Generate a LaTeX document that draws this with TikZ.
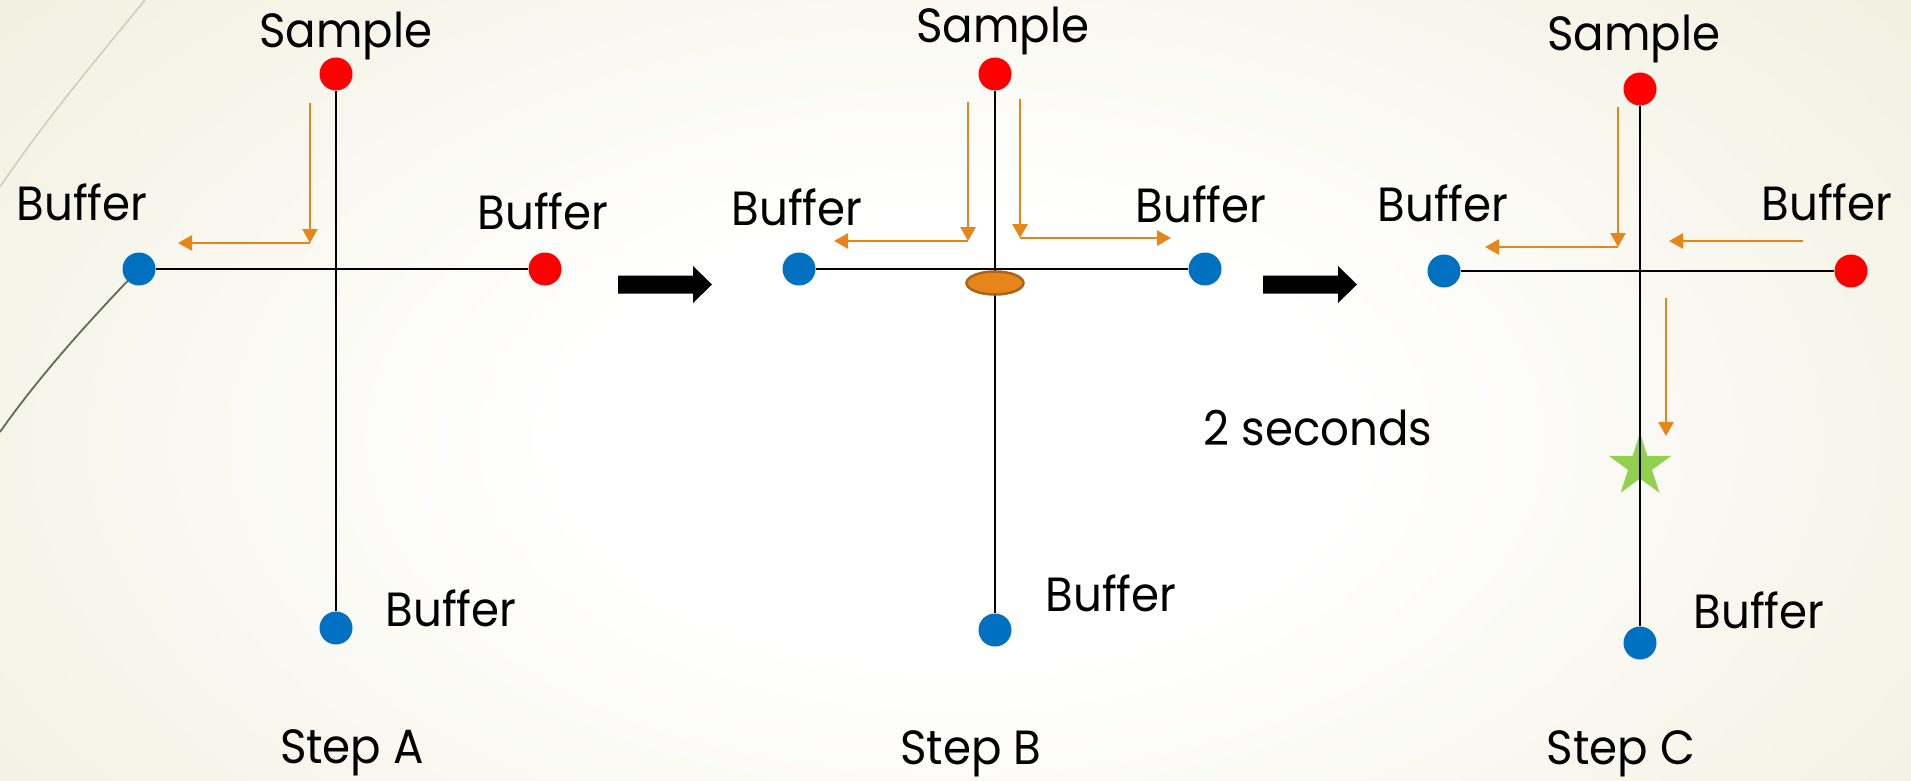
\documentclass[tikz,border=0pt]{standalone}
\usepackage{fontspec}
\setmainfont{Poppins}[FakeStretch=0.94]
\usetikzlibrary{arrows.meta,shapes.geometric}
\definecolor{dotred}{HTML}{FF0000}
\definecolor{dotblue}{HTML}{0070C0}
\definecolor{flow}{HTML}{E6861A}
\definecolor{plugedge}{HTML}{A9651C}
\definecolor{stargreen}{HTML}{92D050}
\definecolor{bgedge}{HTML}{EBE7CD}
\definecolor{bgmid}{HTML}{F4F3E6}
\definecolor{wispdark}{HTML}{5E6E4E}
\definecolor{wisplight}{HTML}{CBCFB6}
\pgfdeclareradialshading{bgshade}{\pgfpoint{0bp}{0bp}}{color(0bp)=(white); color(10bp)=(white); color(27bp)=(bgmid); color(44bp)=(bgedge); color(50bp)=(bgedge)}
\begin{document}
\begin{tikzpicture}[x=1pt,y=-1pt,
  dot/.style={circle, minimum size=33pt, inner sep=0pt, draw=none},
  reddot/.style={dot, fill=dotred},
  bluedot/.style={dot, fill=dotblue},
  lbl/.style={anchor=base, inner sep=0pt, font=\fontsize{48}{58}\selectfont},
  chan/.style={line width=2pt, black},
  flowarrow/.style={line width=2.7pt, flow, -{Triangle[length=14pt,width=15pt]}},
  blockarrow/.pic={\fill[black] (0,-9) -- (75,-9) -- (75,-18.5) -- (94,0) -- (75,18.5) -- (75,9) -- (0,9) -- cycle;}
  ]
\useasboundingbox (0,0) rectangle (1911,781);
\begin{scope}
  \clip (0,0) rectangle (1911,781);
  \shade[shading=bgshade] (-30,-120) rectangle (1940,1000);
  \draw[wisplight, line width=1.5pt] (145,0) .. controls (100,55) and (45,120) .. (0,187);
  \draw[wispdark, line width=1.8pt] (0,432) .. controls (40,375) and (90,320) .. (139,269);
\end{scope}

% ---------- Step A ----------
\node[reddot]  (As) at (336,74) {};
\node[bluedot] (Al) at (139,269) {};
\node[reddot]  (Ar) at (545,269) {};
\node[bluedot] (Ab) at (336,628) {};
\draw[chan] (As) -- (Ab);
\draw[chan] (Al) -- (Ar);
\coordinate (a1) at (310,103);
\coordinate (a2) at (310,243);
\coordinate (a3) at (178,243);
\draw[flowarrow] (a1) -- (a2);
\draw[flowarrow] (a2) -- (a3);
\node[lbl] (tAs) at (346,48) {Sample};
\node[lbl] (tAl) at (82,220) {Buffer};
\node[lbl] (tAr) at (543,229) {Buffer};
\node[lbl] (tAb) at (451,626) {Buffer};
\node[lbl] (tA)  at (352,763) {Step A};

\pic at (618,284.5) {blockarrow};

% ---------- Step B ----------
\node[reddot]  (Bs) at (995,74) {};
\node[bluedot] (Bl) at (799,269) {};
\node[bluedot] (Br) at (1205,269) {};
\node[bluedot] (Bb) at (995,630) {};
\draw[chan] (Bs) -- (Bb);
\draw[chan] (Bl) -- (Br);
\node[ellipse, minimum width=57pt, minimum height=23pt, inner sep=0pt, fill=flow, draw=plugedge, line width=2.5pt] (plug) at (995,283) {};
\coordinate (b1) at (968,102);
\coordinate (b2) at (968,241);
\coordinate (b3) at (834,241);
\coordinate (b4) at (1020,99);
\coordinate (b5) at (1020,238);
\coordinate (b6) at (1171,238);
\draw[flowarrow] (b1) -- (b2);
\draw[flowarrow] (b2) -- (b3);
\draw[flowarrow] (b4) -- (b5);
\draw[flowarrow] (b5) -- (b6);
\node[lbl] (tBs) at (1003,43) {Sample};
\node[lbl] (tBl) at (797,225) {Buffer};
\node[lbl] (tBr) at (1201,222) {Buffer};
\node[lbl] (tBb) at (1111,611) {Buffer};
\node[lbl] (tB)  at (971,764) {Step B};

\pic at (1263,284.5) {blockarrow};
\node[lbl] (tsec) at (1318,445) {2 seconds};

% ---------- Step C ----------
\node[reddot]  (Cs) at (1640,89) {};
\node[bluedot] (Cl) at (1444,271) {};
\node[reddot]  (Cr) at (1851,271) {};
\node[bluedot] (Cb) at (1640,643) {};
\node[star, star points=5, star point ratio=2.618, minimum size=66pt, inner sep=0pt, fill=stargreen] (spot) at (1640,466) {};
\draw[chan] (Cs) -- (Cb);
\draw[chan] (Cl) -- (Cr);
\coordinate (c1) at (1618,107);
\coordinate (c2) at (1618,247);
\coordinate (c3) at (1485,247);
\coordinate (c4) at (1803,241);
\coordinate (c5) at (1669,241);
\coordinate (c6) at (1666,298);
\coordinate (c7) at (1666,436);
\draw[flowarrow] (c1) -- (c2);
\draw[flowarrow] (c2) -- (c3);
\draw[flowarrow] (c4) -- (c5);
\draw[flowarrow] (c6) -- (c7);
\node[lbl] (tCs) at (1634,51) {Sample};
\node[lbl] (tCl) at (1443,221) {Buffer};
\node[lbl] (tCr) at (1827,220) {Buffer};
\node[lbl] (tCb) at (1759,628) {Buffer};
\node[lbl] (tC)  at (1621,764) {Step C};
\end{tikzpicture}
\end{document}
